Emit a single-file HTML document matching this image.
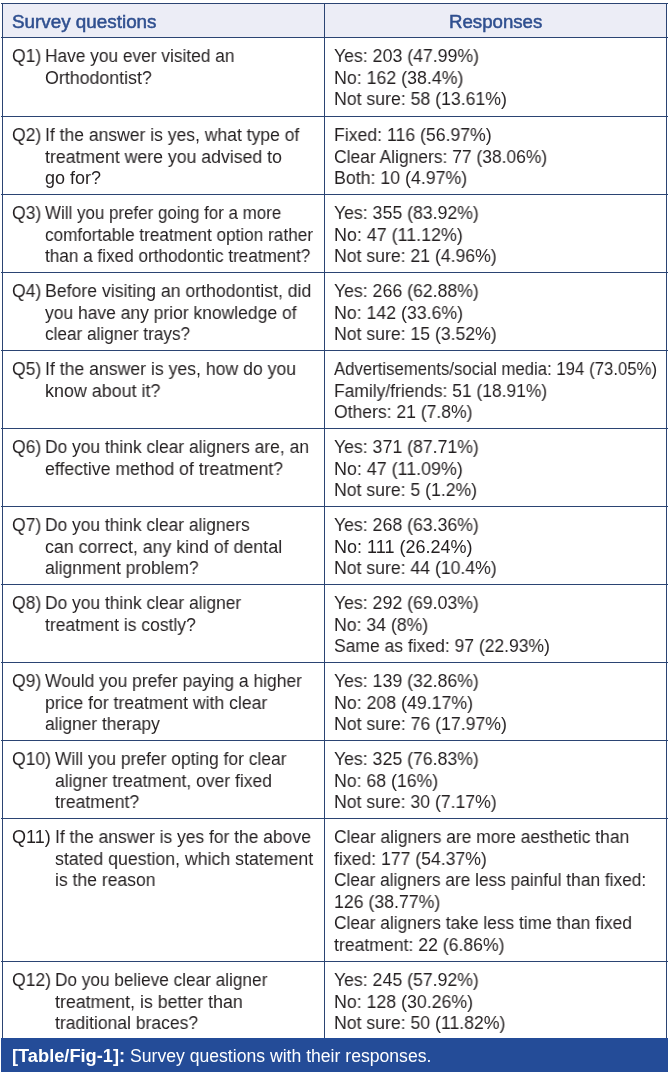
<!DOCTYPE html>
<html><head><meta charset="utf-8"><style>
html,body{margin:0;padding:0;background:#fff;}
html{overflow:hidden;}
body{width:670px;height:1073px;position:relative;overflow:visible;font-family:"Liberation Sans",sans-serif;}
.h{position:absolute;left:1px;width:667px;height:1px;background:#2b4473;}
.v{position:absolute;top:3px;width:1px;height:1035px;background:#2b4473;}
.t{will-change:transform;position:absolute;white-space:nowrap;font-size:18px;line-height:21.5px;color:#231f20;transform-origin:0 0;}
#hdr{position:absolute;left:3px;top:4px;width:663px;height:33px;background:#ecedf6;}
.hd{will-change:transform;position:absolute;top:12px;font-size:18px;line-height:21.5px;font-weight:normal;-webkit-text-stroke:0.5px #2f4f8f;color:#2f4f8f;white-space:nowrap;transform-origin:0 0;}
#cap{position:absolute;left:1px;top:1038px;width:667px;height:34px;background:#244c98;color:#fff;}
#cap span{will-change:transform;position:absolute;top:8px;font-size:17.5px;line-height:20px;white-space:nowrap;transform-origin:0 0;}
</style></head><body>
<div id="hdr"></div>
<div class="h" style="top:3px"></div>
<div class="h" style="top:37px"></div>
<div class="h" style="top:116px"></div>
<div class="h" style="top:194px"></div>
<div class="h" style="top:272px"></div>
<div class="h" style="top:350px"></div>
<div class="h" style="top:428px"></div>
<div class="h" style="top:506px"></div>
<div class="h" style="top:584px"></div>
<div class="h" style="top:662px"></div>
<div class="h" style="top:740px"></div>
<div class="h" style="top:818px"></div>
<div class="h" style="top:961px"></div>
<div class="v" style="left:2px"></div>
<div class="v" style="left:324px"></div>
<div class="v" style="left:666px"></div>
<div class="hd" style="left:12px;transform:scaleX(1.0465)">Survey questions</div>
<div class="hd" style="left:449px;transform:scaleX(1.0358)">Responses</div>
<div class="t" style="left:12px;top:46px;transform:scaleX(0.9754)">Q1)</div>
<div class="t" style="left:45px;top:46px;transform:scaleX(0.9616)">Have you ever visited an</div>
<div class="t" style="left:45px;top:68px;transform:scaleX(0.9888)">Orthodontist?</div>
<div class="t" style="left:334px;top:46px;transform:scaleX(0.9829)">Yes: 203 (47.99%)</div>
<div class="t" style="left:334px;top:68px;transform:scaleX(0.9876)">No: 162 (38.4%)</div>
<div class="t" style="left:334px;top:89px;transform:scaleX(0.9822)">Not sure: 58 (13.61%)</div>
<div class="t" style="left:12px;top:125px;transform:scaleX(0.9754)">Q2)</div>
<div class="t" style="left:45px;top:125px;transform:scaleX(0.9743)">If the answer is yes, what type of</div>
<div class="t" style="left:45px;top:147px;transform:scaleX(0.9829)">treatment were you advised to</div>
<div class="t" style="left:45px;top:168px;transform:scaleX(0.9928)">go for?</div>
<div class="t" style="left:334px;top:125px;transform:scaleX(0.9806)">Fixed: 116 (56.97%)</div>
<div class="t" style="left:334px;top:147px;transform:scaleX(0.9689)">Clear Aligners: 77 (38.06%)</div>
<div class="t" style="left:334px;top:168px;transform:scaleX(0.9865)">Both: 10 (4.97%)</div>
<div class="t" style="left:12px;top:203px;transform:scaleX(0.9754)">Q3)</div>
<div class="t" style="left:45px;top:203px;transform:scaleX(0.9411)">Will you prefer going for a more</div>
<div class="t" style="left:45px;top:225px;transform:scaleX(0.9529)">comfortable treatment option rather</div>
<div class="t" style="left:45px;top:246px;transform:scaleX(0.9535)">than a fixed orthodontic treatment?</div>
<div class="t" style="left:334px;top:203px;transform:scaleX(0.9816)">Yes: 355 (83.92%)</div>
<div class="t" style="left:334px;top:225px;transform:scaleX(0.9930)">No: 47 (11.12%)</div>
<div class="t" style="left:334px;top:246px;transform:scaleX(0.9799)">Not sure: 21 (4.96%)</div>
<div class="t" style="left:12px;top:281px;transform:scaleX(0.9754)">Q4)</div>
<div class="t" style="left:45px;top:281px;transform:scaleX(0.9818)">Before visiting an orthodontist, did</div>
<div class="t" style="left:45px;top:303px;transform:scaleX(0.9703)">you have any prior knowledge of</div>
<div class="t" style="left:45px;top:324px;transform:scaleX(0.9545)">clear aligner trays?</div>
<div class="t" style="left:334px;top:281px;transform:scaleX(0.9816)">Yes: 266 (62.88%)</div>
<div class="t" style="left:334px;top:303px;transform:scaleX(0.9853)">No: 142 (33.6%)</div>
<div class="t" style="left:334px;top:324px;transform:scaleX(0.9799)">Not sure: 15 (3.52%)</div>
<div class="t" style="left:12px;top:359px;transform:scaleX(0.9754)">Q5)</div>
<div class="t" style="left:45px;top:359px;transform:scaleX(0.9807)">If the answer is yes, how do you</div>
<div class="t" style="left:45px;top:381px;transform:scaleX(0.9948)">know about it?</div>
<div class="t" style="left:334px;top:359px;transform:scaleX(0.9302)">Advertisements/social media: 194 (73.05%)</div>
<div class="t" style="left:334px;top:381px;transform:scaleX(0.9689)">Family/friends: 51 (18.91%)</div>
<div class="t" style="left:334px;top:402px;transform:scaleX(0.9751)">Others: 21 (7.8%)</div>
<div class="t" style="left:12px;top:437px;transform:scaleX(0.9754)">Q6)</div>
<div class="t" style="left:45px;top:437px;transform:scaleX(0.9661)">Do you think clear aligners are, an</div>
<div class="t" style="left:45px;top:459px;transform:scaleX(0.9805)">effective method of treatment?</div>
<div class="t" style="left:334px;top:437px;transform:scaleX(0.9816)">Yes: 371 (87.71%)</div>
<div class="t" style="left:334px;top:459px;transform:scaleX(0.9930)">No: 47 (11.09%)</div>
<div class="t" style="left:334px;top:480px;transform:scaleX(0.9799)">Not sure: 5 (1.2%)</div>
<div class="t" style="left:12px;top:515px;transform:scaleX(0.9754)">Q7)</div>
<div class="t" style="left:45px;top:515px;transform:scaleX(0.9655)">Do you think clear aligners</div>
<div class="t" style="left:45px;top:537px;transform:scaleX(0.9870)">can correct, any kind of dental</div>
<div class="t" style="left:45px;top:558px;transform:scaleX(0.9721)">alignment problem?</div>
<div class="t" style="left:334px;top:515px;transform:scaleX(0.9816)">Yes: 268 (63.36%)</div>
<div class="t" style="left:334px;top:537px;transform:scaleX(1.0007)">No: 111 (26.24%)</div>
<div class="t" style="left:334px;top:558px;transform:scaleX(0.9799)">Not sure: 44 (10.4%)</div>
<div class="t" style="left:12px;top:593px;transform:scaleX(0.9754)">Q8)</div>
<div class="t" style="left:45px;top:593px;transform:scaleX(0.9664)">Do you think clear aligner</div>
<div class="t" style="left:45px;top:615px;transform:scaleX(0.9728)">treatment is costly?</div>
<div class="t" style="left:334px;top:593px;transform:scaleX(0.9816)">Yes: 292 (69.03%)</div>
<div class="t" style="left:334px;top:615px;transform:scaleX(0.9810)">No: 34 (8%)</div>
<div class="t" style="left:334px;top:636px;transform:scaleX(0.9723)">Same as fixed: 97 (22.93%)</div>
<div class="t" style="left:12px;top:671px;transform:scaleX(0.9754)">Q9)</div>
<div class="t" style="left:45px;top:671px;transform:scaleX(0.9705)">Would you prefer paying a higher</div>
<div class="t" style="left:45px;top:693px;transform:scaleX(0.9792)">price for treatment with clear</div>
<div class="t" style="left:45px;top:714px;transform:scaleX(0.9646)">aligner therapy</div>
<div class="t" style="left:334px;top:671px;transform:scaleX(0.9816)">Yes: 139 (32.86%)</div>
<div class="t" style="left:334px;top:693px;transform:scaleX(0.9864)">No: 208 (49.17%)</div>
<div class="t" style="left:334px;top:714px;transform:scaleX(0.9822)">Not sure: 76 (17.97%)</div>
<div class="t" style="left:12px;top:749px;transform:scaleX(0.9766)">Q10)</div>
<div class="t" style="left:55px;top:749px;transform:scaleX(0.9686)">Will you prefer opting for clear</div>
<div class="t" style="left:55px;top:771px;transform:scaleX(0.9729)">aligner treatment, over fixed</div>
<div class="t" style="left:55px;top:792px;transform:scaleX(0.9789)">treatment?</div>
<div class="t" style="left:334px;top:749px;transform:scaleX(0.9816)">Yes: 325 (76.83%)</div>
<div class="t" style="left:334px;top:771px;transform:scaleX(0.9828)">No: 68 (16%)</div>
<div class="t" style="left:334px;top:792px;transform:scaleX(0.9799)">Not sure: 30 (7.17%)</div>
<div class="t" style="left:12px;top:827px;transform:scaleX(1.0027)">Q11)</div>
<div class="t" style="left:55px;top:827px;transform:scaleX(0.9685)">If the answer is yes for the above</div>
<div class="t" style="left:55px;top:849px;transform:scaleX(0.9843)">stated question, which statement</div>
<div class="t" style="left:55px;top:870px;transform:scaleX(0.9754)">is the reason</div>
<div class="t" style="left:334px;top:827px;transform:scaleX(0.9674)">Clear aligners are more aesthetic than</div>
<div class="t" style="left:334px;top:849px;transform:scaleX(0.9793)">fixed: 177 (54.37%)</div>
<div class="t" style="left:334px;top:870px;transform:scaleX(0.9598)">Clear aligners are less painful than fixed:</div>
<div class="t" style="left:334px;top:892px;transform:scaleX(0.9840)">126 (38.77%)</div>
<div class="t" style="left:334px;top:913px;transform:scaleX(0.9633)">Clear aligners take less time than fixed</div>
<div class="t" style="left:334px;top:935px;transform:scaleX(0.9797)">treatment: 22 (6.86%)</div>
<div class="t" style="left:12px;top:970px;transform:scaleX(0.9766)">Q12)</div>
<div class="t" style="left:55px;top:970px;transform:scaleX(0.9562)">Do you believe clear aligner</div>
<div class="t" style="left:55px;top:992px;transform:scaleX(0.9878)">treatment, is better than</div>
<div class="t" style="left:55px;top:1013px;transform:scaleX(0.9734)">traditional braces?</div>
<div class="t" style="left:334px;top:970px;transform:scaleX(0.9816)">Yes: 245 (57.92%)</div>
<div class="t" style="left:334px;top:992px;transform:scaleX(0.9864)">No: 128 (30.26%)</div>
<div class="t" style="left:334px;top:1013px;transform:scaleX(0.9804)">Not sure: 50 (11.82%)</div>
<div id="cap"><span style="left:11px;font-weight:bold;transform:scaleX(1.0419)">[Table/Fig-1]:</span><span style="left:129px;transform:scaleX(1.0060)">Survey questions with their responses.</span></div>
</body></html>
